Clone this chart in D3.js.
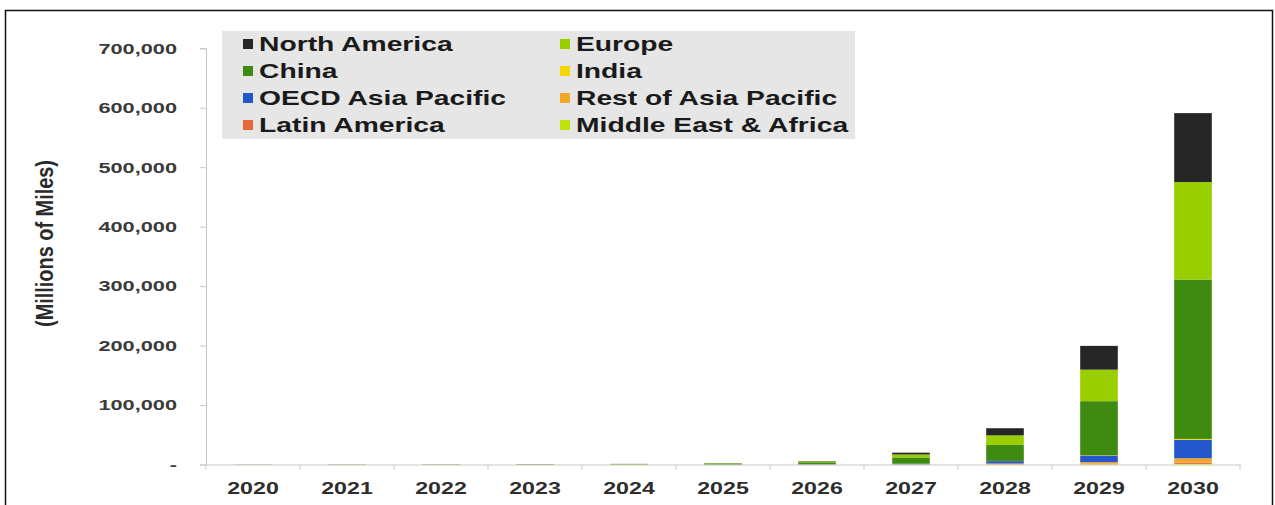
<!DOCTYPE html>
<html>
<head>
<meta charset="utf-8">
<script src="https://cdn.jsdelivr.net/npm/d3@7/dist/d3.min.js"></script>
<style>
  body { margin: 0; background: #fff; }
  text { font-family: "Liberation Sans", Arial, sans-serif; }
</style>
</head>
<body>
<div id="chart"></div>
<script>
// values in millions of miles
const years = ['2020', '2021', '2022', '2023', '2024', '2025', '2026', '2027', '2028', '2029', '2030'];
const northAmerica = [50, 80, 100, 150, 200, 300, 600, 3000, 12000, 40000, 116000];
const europe = [80, 100, 150, 200, 300, 700, 1500, 5000, 16000, 53000, 164000];
const china = [150, 200, 250, 300, 400, 1300, 3200, 10500, 27000, 91000, 268000];
const india = [5, 5, 5, 10, 10, 20, 50, 100, 300, 500, 1500];
const oecdAsiaPacific = [20, 30, 40, 50, 60, 100, 300, 800, 4000, 11000, 31000];
const restOfAsiaPacific = [5, 5, 10, 10, 20, 40, 80, 300, 1000, 2500, 7500];
const latinAmerica = [5, 5, 5, 5, 10, 20, 50, 100, 400, 1000, 2000];
const middleEastAfrica = [5, 5, 5, 5, 10, 20, 50, 100, 300, 500, 1000];
const yTicks = [0, 100000, 200000, 300000, 400000, 500000, 600000, 700000];

const series = [
  { name: 'North America', values: northAmerica, color: '#262626' },
  { name: 'Europe', values: europe, color: '#99cf00' },
  { name: 'China', values: china, color: '#3f8a10' },
  { name: 'India', values: india, color: '#f5d800' },
  { name: 'OECD Asia Pacific', values: oecdAsiaPacific, color: '#2456cc' },
  { name: 'Rest of Asia Pacific', values: restOfAsiaPacific, color: '#f2a72a' },
  { name: 'Latin America', values: latinAmerica, color: '#e8683a' },
  { name: 'Middle East & Africa', values: middleEastAfrica, color: '#c2e20e' }
];

const W = 1275, H = 505;
const sx = 1.45; // the picture is stretched sideways
const plotLeft = 206, plotRight = 1240, plotTop = 48.3, plotBottom = 464.5;

const svg = d3.select('#chart').append('svg')
  .attr('width', W).attr('height', H);

svg.append('rect')
  .attr('x', 5.5).attr('y', 10.5)
  .attr('width', 1267).attr('height', 510)
  .attr('fill', 'none').attr('stroke', '#111').attr('stroke-width', 1.5);

const rows = years.map((yr, i) => {
  const r = { year: yr };
  series.forEach(s => { r[s.name] = s.values[i]; });
  return r;
});

// first legend entry sits on top of the stack
const keys = series.map(s => s.name).reverse();
const stacked = d3.stack().keys(keys)(rows);
const colorOf = d3.scaleOrdinal().domain(series.map(s => s.name)).range(series.map(s => s.color));

const x = d3.scaleBand().domain(years).range([plotLeft, plotRight]).paddingInner(0.6).paddingOuter(0.3);
const y = d3.scaleLinear().domain([0, 700000]).range([plotBottom, plotTop]);

// y axis
const yAxis = svg.append('g')
  .attr('transform', 'translate(' + plotLeft + ',0)')
  .call(d3.axisLeft(y).tickValues(yTicks).tickSize(6).tickPadding(14)
    .tickFormat(d => d === 0 ? '-' : d3.format(',')(d)));
yAxis.select('.domain').attr('stroke', '#c8c8c8');
yAxis.selectAll('.tick line').attr('stroke', '#c8c8c8');
yAxis.selectAll('.tick text')
  .attr('transform', 'scale(' + sx + ',1)')
  .attr('fill', '#3a3a3a')
  .style('font-size', '15px').style('font-weight', 'bold');

// x axis
const xAxis = svg.append('g')
  .attr('transform', 'translate(0,' + plotBottom + ')')
  .call(d3.axisBottom(x).tickSize(0).tickPadding(18));
xAxis.select('.domain').attr('stroke', '#c8c8c8');
xAxis.selectAll('.tick text')
  .attr('transform', 'scale(' + sx + ',1)')
  .attr('fill', '#2e2e2e')
  .style('font-size', '16px').style('font-weight', 'bold');
const step = x.step();
svg.append('g').selectAll('line')
  .data(d3.range(years.length + 1))
  .enter().append('line')
  .attr('x1', i => plotLeft + i * step).attr('x2', i => plotLeft + i * step)
  .attr('y1', plotBottom).attr('y2', plotBottom + 5)
  .attr('stroke', '#c8c8c8');

// bars
svg.append('g').selectAll('g')
  .data(stacked)
  .enter().append('g')
  .attr('fill', d => colorOf(d.key))
  .selectAll('rect')
  .data(d => d)
  .enter().append('rect')
  .attr('x', d => x(d.data.year))
  .attr('width', x.bandwidth())
  .attr('y', d => y(d[1]))
  .attr('height', d => y(d[0]) - y(d[1]));

// y title
svg.append('text')
  .attr('transform', 'translate(45,243.5) scale(' + sx + ',1) rotate(-90)')
  .attr('text-anchor', 'middle')
  .attr('dy', '0.35em')
  .attr('textLength', 167)
  .attr('lengthAdjust', 'spacingAndGlyphs')
  .attr('fill', '#2a2a2a')
  .style('font-size', '16px').style('font-weight', 'bold')
  .text('(Millions of Miles)');

// legend
const legend = svg.append('g');
legend.append('rect')
  .attr('x', 222).attr('y', 31)
  .attr('width', 633).attr('height', 108)
  .attr('fill', '#e6e6e6');
const item = legend.selectAll('g.item')
  .data(series)
  .enter().append('g')
  .attr('class', 'item')
  .attr('transform', (d, i) => 'translate(' + (i % 2 === 0 ? 243 : 560) + ',' + (44 + Math.floor(i / 2) * 27) + ')');
item.append('rect')
  .attr('x', 0).attr('y', -5)
  .attr('width', 10).attr('height', 10)
  .attr('fill', d => d.color);
item.append('text')
  .attr('transform', 'translate(16,0) scale(' + sx + ',1)')
  .attr('dy', '0.36em')
  .attr('fill', '#1a1a1a')
  .style('font-size', '19.5px').style('font-weight', 'bold')
  .text(d => d.name);
</script>
</body>
</html>
